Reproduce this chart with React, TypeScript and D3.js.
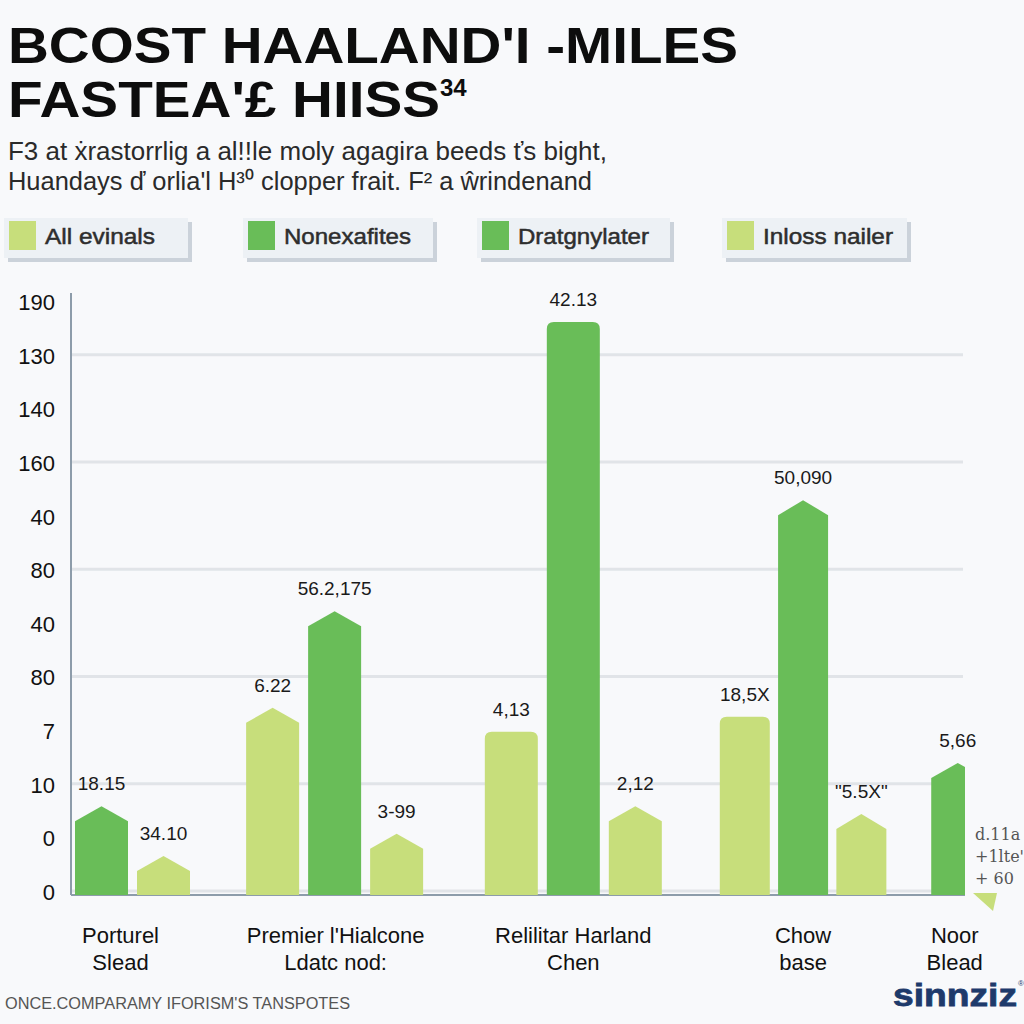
import React from "react";
import * as d3 from "d3";

// ---------- data ----------
const titleLines = ["BCOST HAALAND'I -MILES", "FASTEA'£ HIISS"];
const titleSup = "34";
const subtitleLines = [
  "F3 at ẋrastorrlig a al!!le moly agagira beeds ťs bight,",
  "Huandays ď orlia'l H³⁰ clopper frait. F² a ŵrindenand",
];
const legendLabels = ["All evinals", "Nonexafites", "Dratgnylater", "Inloss nailer"];
const legendTones = ["light", "dark", "dark", "light"];
const yTickLabels = ["190", "130", "140", "160", "40", "80", "40", "80", "7", "10", "0", "0"];
const categories = [
  ["Porturel", "Slead"],
  ["Premier l'Hialcone", "Ldatc nod:"],
  ["Relilitar Harland", "Chen"],
  ["Chow", "base"],
  ["Noor", "Blead"],
];
const barCategory = [0, 0, 1, 1, 1, 2, 2, 2, 3, 3, 3, 4];
const barTone = ["dark", "light", "light", "dark", "light", "light", "dark", "light", "light", "dark", "light", "dark"];
const barValues = [14.8, 6.5, 31.2, 47.3, 10.2, 27.2, 95.5, 14.8, 29.7, 65.8, 13.5, 22.0];
const barLabels = ["18.15", "34.10", "6.22", "56.2,175", "3-99", "4,13", "42.13", "2,12", "18,5X", "50,090", "\"5.5X\"", "5,66"];
const barTip = ["peak", "peak", "peak", "peak", "peak", "flat", "flat", "peak", "flat", "peak", "peak", "peak"];
const sideNotes = ["d.11a", "+1lte'", "+ 60"];
const footerText = "ONCE.COMPARAMY IFORISM'S TANSPOTES";
const brand = "sinnziz";

// ---------- style ----------
const COLORS: Record<string, string> = { dark: "#69bd58", light: "#c7de7b" };
const SANS = "'Liberation Sans', Arial, sans-serif";

export default function App() {
  const W = 1024;
  const H = 1024;
  const plotLeft = 71;
  const plotRight = 963;
  const plotTop = 293;
  const plotBottom = 895;

  const y = d3.scaleLinear().domain([0, 100]).range([plotBottom, 295]);
  const yTicks = d3
    .scalePoint<number>()
    .domain(yTickLabels.map((_, i) => i))
    .range([302, 892]);

  // slot-based x layout (one slot = one bar + gap)
  const slot = d3.scaleLinear().domain([0, 1]).range([75, 137]);
  const groupOffsets = [0, 2.76, 6.61, 10.4, 13.81];
  const groupStep = [1, 1, 1, 0.94, 1];
  const barWidths = [53, 53, 53, 50, 53];
  const labelNudge = [-12, 1, 0, 0, -3];

  const withinIdx: number[] = [];
  const counts: number[] = categories.map(() => 0);
  barCategory.forEach((c, i) => {
    withinIdx[i] = counts[c];
    counts[c] += 1;
  });

  const bw = (i: number) => barWidths[barCategory[i]];
  const barX = (i: number) => {
    const c = barCategory[i];
    return slot(groupOffsets[c] + withinIdx[i] * groupStep[c]);
  };
  const groupCenter = (c: number) => {
    const first = barCategory.indexOf(c);
    const last = barCategory.lastIndexOf(c);
    return (barX(first) + barX(last) + bw(last)) / 2 + labelNudge[c];
  };

  const barPath = (i: number) => {
    const x0 = barX(i);
    const x1 = x0 + bw(i);
    const top = y(barValues[i]);
    const base = y(0);
    if (barTip[i] === "peak") {
      const sh = top + 15;
      return `M${x0},${base}L${x0},${sh}L${(x0 + x1) / 2},${top}L${x1},${sh}L${x1},${base}Z`;
    }
    const r = 7;
    return `M${x0},${base}L${x0},${top + r}Q${x0},${top} ${x0 + r},${top}L${x1 - r},${top}Q${x1},${top} ${x1},${top + r}L${x1},${base}Z`;
  };

  const legendX = [4, 243, 477, 722];
  const legendW = [184, 190, 193, 185];
  const legendTextW = [110, 127, 131, 130];

  return (
    <svg
      width={W}
      height={H}
      viewBox={`0 0 ${W} ${H}`}
      style={{ position: "absolute", left: 0, top: 0, display: "block" }}
    >
      <defs>
        <clipPath id="plotClip">
          <rect x={plotLeft} y={0} width={965 - plotLeft} height={plotBottom} />
        </clipPath>
      </defs>
      <rect x={0} y={0} width={W} height={H} fill="#f8f9fb" />

      {/* title */}
      <text x={8} y={63} fontFamily={SANS} fontWeight="bold" fontSize={50} fill="#0d0d0d"
        textLength={730} lengthAdjust="spacingAndGlyphs">{titleLines[0]}</text>
      <text x={8} y={117} fontFamily={SANS} fontWeight="bold" fontSize={50} fill="#0d0d0d"
        textLength={432} lengthAdjust="spacingAndGlyphs">{titleLines[1]}</text>
      <text x={440} y={96} fontFamily={SANS} fontWeight="bold" fontSize={24} fill="#0d0d0d">{titleSup}</text>

      {/* subtitle */}
      <text x={8} y={160} fontFamily={SANS} fontSize={25} fill="#2a2a2a"
        textLength={599} lengthAdjust="spacingAndGlyphs">{subtitleLines[0]}</text>
      <text x={8} y={190} fontFamily={SANS} fontSize={25} fill="#2a2a2a"
        textLength={584} lengthAdjust="spacingAndGlyphs">{subtitleLines[1]}</text>

      {/* legend */}
      {legendLabels.map((lab, i) => (
        <g key={lab}>
          <rect x={legendX[i] + 4} y={222} width={legendW[i]} height={40} fill="#cbd2da" />
          <rect x={legendX[i]} y={218} width={legendW[i]} height={40} fill="#edf1f5" />
          <rect x={legendX[i] + 5} y={221} width={27} height={29} fill={COLORS[legendTones[i]]} />
          <text x={legendX[i] + 41} y={244} fontFamily={SANS} fontSize={22} fill="#2e2e2e"
            stroke="#2e2e2e" strokeWidth={0.5}
            textLength={legendTextW[i]} lengthAdjust="spacingAndGlyphs">{lab}</text>
        </g>
      ))}

      {/* grid */}
      {yTickLabels.map((_, i) =>
        i % 2 === 1 ? (
          <line key={`g${i}`} x1={plotLeft + 1} x2={plotRight} y1={yTicks(i)! - 1} y2={yTicks(i)! - 1}
            stroke="#e1e4e8" strokeWidth={3} />
        ) : null
      )}

      {/* y tick labels */}
      {yTickLabels.map((t, i) => (
        <text key={`t${i}`} x={55} y={yTicks(i)! + 8} textAnchor="end" fontFamily={SANS} fontSize={22} fill="#111">
          {t}
        </text>
      ))}

      {/* axes */}
      <line x1={plotLeft} x2={plotLeft} y1={plotTop} y2={plotBottom} stroke="#8d9caa" strokeWidth={2} />
      <line x1={plotLeft} x2={965} y1={plotBottom} y2={plotBottom} stroke="#8d9caa" strokeWidth={2} />

      {/* bars */}
      <g clipPath="url(#plotClip)">
        {barValues.map((_, i) => (
          <path key={`b${i}`} d={barPath(i)} fill={COLORS[barTone[i]]} />
        ))}
      </g>

      {/* bar labels */}
      {barLabels.map((lab, i) => (
        <text key={`l${i}`} x={barX(i) + bw(i) / 2} y={y(barValues[i]) - 16} textAnchor="middle"
          fontFamily={SANS} fontSize={19} fill="#1a1a1a">
          {lab}
        </text>
      ))}

      {/* side notes */}
      {sideNotes.map((s, i) => (
        <text key={`s${i}`} x={975} y={840 + i * 22} fontFamily="'DejaVu Serif', 'Liberation Serif', serif"
          fontSize={16} fill="#555">
          {s}
        </text>
      ))}
      <polygon points="973,893 997,893 993,911" fill={COLORS.light} />

      {/* category labels */}
      {categories.map((lines, c) => (
        <g key={`c${c}`}>
          {lines.map((ln, j) => (
            <text key={j} x={groupCenter(c)} y={943 + j * 27} textAnchor="middle" fontFamily={SANS}
              fontSize={22} fill="#111">
              {ln}
            </text>
          ))}
        </g>
      ))}

      {/* footer */}
      <text x={5} y={1009} fontFamily={SANS} fontSize={16} fill="#555" textLength={345}
        lengthAdjust="spacingAndGlyphs">{footerText}</text>
      <text x={893} y={1006} fontFamily={SANS} fontWeight="bold" fontSize={32} fill="#1e3a6b"
        stroke="#1e3a6b" strokeWidth={0.8}
        textLength={124} lengthAdjust="spacingAndGlyphs">{brand}</text>
      <text x={1018} y={986} fontFamily={SANS} fontSize={8} fill="#1e3a6b">®</text>
    </svg>
  );
}
